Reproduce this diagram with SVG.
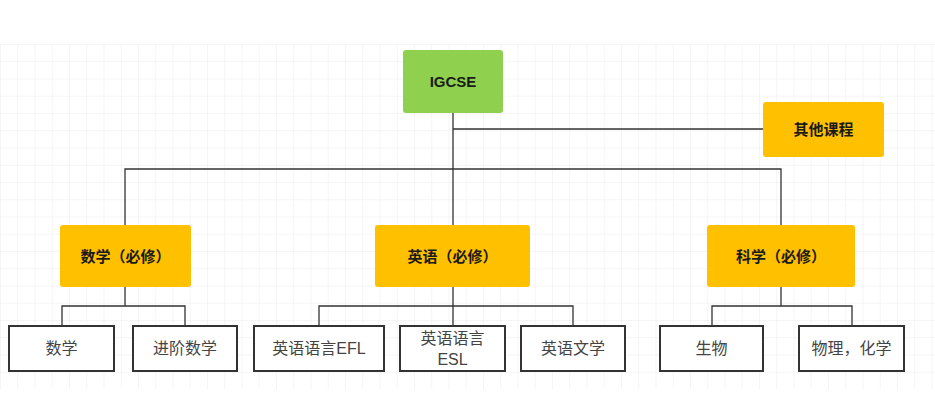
<svg xmlns="http://www.w3.org/2000/svg" width="935" height="407" viewBox="0 0 935 407">
<style>
.bold{font-family:"Liberation Sans","Noto Sans CJK SC",sans-serif;font-weight:bold;font-size:15px;fill:#1a1a1a;text-anchor:middle;dominant-baseline:central}
.leaf rect{fill:#fff;stroke:#333;stroke-width:2}
.leaf text{font-family:"Liberation Sans","Noto Sans CJK SC",sans-serif;font-size:16px;fill:#444;text-anchor:middle;dominant-baseline:central}
.yel{fill:#ffc000}
.conn{fill:none;stroke:#333;stroke-width:1.3}
</style>
<defs>
<pattern id="g" width="17.25" height="17.25" patternUnits="userSpaceOnUse" x="0" y="44">
<path d="M0 0H17.25M0 0V17.25" fill="none" stroke="#ececec" stroke-width="1"/>
</pattern>
</defs>
<rect width="935" height="407" fill="#fff"/>
<rect x="0" y="44" width="935" height="345" fill="url(#g)"/>
<g id="connectors" class="conn">
<path d="M453 113V225M453 129H763M125 225V169H781V225"/>
<path d="M125 287V306M62 326V306H185V326"/>
<path d="M453 287V326M319 326V306H573V326"/>
<path d="M781 287V306M712 326V306H852V326"/>
</g>
<g id="igcse"><rect x="403" y="50" width="100" height="63" rx="3" fill="#8fd14f"/><text class="bold" x="453" y="81.5">IGCSE</text></g>
<g id="other"><rect class="yel" x="763" y="102" width="121" height="55" rx="3"/><text class="bold" x="823.5" y="129.5">其他课程</text></g>
<g id="math"><rect class="yel" x="60" y="225" width="131" height="62" rx="3"/><text class="bold" x="125.5" y="256">数学（必修）</text></g>
<g id="english"><rect class="yel" x="375" y="225" width="155" height="62" rx="3"/><text class="bold" x="452.5" y="256">英语（必修）</text></g>
<g id="science"><rect class="yel" x="707" y="225" width="148" height="62" rx="3"/><text class="bold" x="781" y="256">科学（必修）</text></g>
<g id="leaf-math" class="leaf"><rect x="9" y="326" width="105" height="45"/><text x="61.5" y="348.5">数学</text></g>
<g id="leaf-adv" class="leaf"><rect x="133" y="326" width="104" height="45"/><text x="185" y="348.5">进阶数学</text></g>
<g id="leaf-efl" class="leaf"><rect x="254" y="326" width="130" height="45"/><text x="319" y="348.5">英语语言EFL</text></g>
<g id="leaf-esl" class="leaf"><rect x="400" y="326" width="105" height="45"/><text x="452.5" y="338">英语语言</text><text x="452.5" y="359">ESL</text></g>
<g id="leaf-lit" class="leaf"><rect x="521" y="326" width="104" height="45"/><text x="573" y="348.5">英语文学</text></g>
<g id="leaf-bio" class="leaf"><rect x="660" y="326" width="103" height="45"/><text x="711.5" y="348.5">生物</text></g>
<g id="leaf-phys" class="leaf"><rect x="799" y="326" width="105" height="45"/><text x="851.5" y="348.5">物理，化学</text></g>
</svg>
